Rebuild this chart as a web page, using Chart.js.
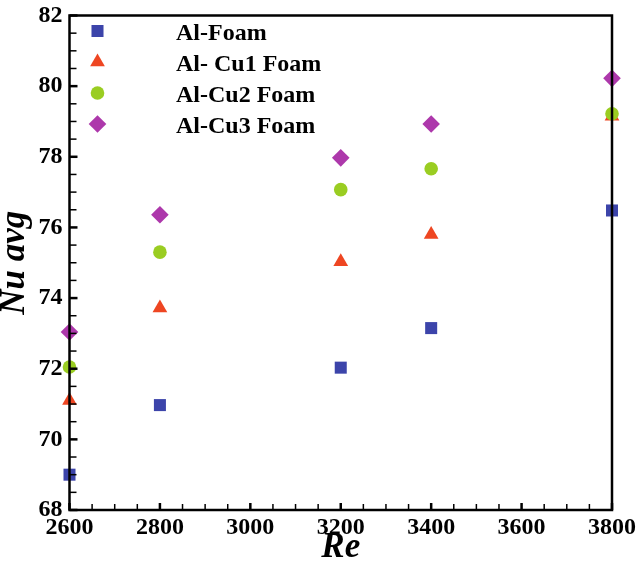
<!DOCTYPE html>
<html>
<head>
<meta charset="utf-8">
<script src="https://cdn.jsdelivr.net/npm/chart.js@4/dist/chart.umd.min.js"></script>
<style>
html,body{margin:0;padding:0;background:#fff;}
#wrap{width:640px;height:563px;position:relative;}
</style>
</head>
<body>
<div id="wrap"><canvas id="c"></canvas></div>
<script>
const reValues = [2600, 2800, 3200, 3400, 3800];
const alFoam = [69.0, 70.97, 72.03, 73.15, 76.48];
const alCu1Foam = [71.1, 73.72, 75.03, 75.8, 79.15];
const alCu2Foam = [72.05, 75.3, 77.07, 77.66, 79.22];
const alCu3Foam = [73.04, 76.36, 77.97, 78.93, 80.22];
const seriesNames = ['Al-Foam', 'Al- Cu1 Foam', 'Al-Cu2 Foam', 'Al-Cu3 Foam'];
const xTicks = [2600, 2800, 3000, 3200, 3400, 3600, 3800];
const yTicks = [68, 70, 72, 74, 76, 78, 80, 82];

const styles = [
  {color:'#3c44aa', pointStyle:'rect', radius:8.5, order:4},
  {color:'#ee4622', pointStyle:'triangle', radius:8.5, order:3},
  {color:'#9acd22', pointStyle:'circle', radius:6.8, order:2},
  {color:'#ad38ab', pointStyle:'rectRot', radius:8.8, order:1}
];
const allSeries = [alFoam, alCu1Foam, alCu2Foam, alCu3Foam];

const datasets = allSeries.map((vals, i) => ({
  label: seriesNames[i],
  data: reValues.map((x, j) => ({x: x, y: vals[j]})),
  backgroundColor: styles[i].color,
  borderColor: styles[i].color,
  borderWidth: 0,
  pointStyle: styles[i].pointStyle,
  pointRadius: styles[i].radius,
  pointHoverRadius: styles[i].radius,
  showLine: false,
  clip: false,
  order: styles[i].order
}));

const framePlugin = {
  id: 'frame',
  afterDraw(chart) {
    const ctx = chart.ctx;
    const a = chart.chartArea;
    const xs = chart.scales.x, ys = chart.scales.y;
    ctx.save();
    ctx.strokeStyle = '#000';
    for (let v = 68; v <= 82.0001; v += 0.5) {
      const py = ys.getPixelForValue(v);
      const major = Math.abs(v - Math.round(v / 2) * 2) < 1e-6;
      ctx.lineWidth = major ? 2.5 : 1.5;
      ctx.beginPath();
      ctx.moveTo(a.left, py);
      ctx.lineTo(a.left + (major ? 8 : 7), py);
      ctx.stroke();
    }
    for (let v = 2600; v <= 3800.0001; v += 50) {
      const px = xs.getPixelForValue(v);
      const major = v % 200 === 0;
      ctx.lineWidth = major ? 2.5 : 1.5;
      ctx.beginPath();
      ctx.moveTo(px, a.bottom);
      ctx.lineTo(px, a.bottom - (major ? 7 : 6));
      ctx.stroke();
    }
    ctx.lineWidth = 2.5;
    ctx.strokeRect(a.left, a.top, a.right - a.left, a.bottom - a.top);
    const rowY = [31, 62, 93, 124];
    ctx.font = 'bold 24px "Liberation Serif"';
    ctx.textBaseline = 'alphabetic';
    ctx.textAlign = 'left';
    for (let i = 0; i < seriesNames.length; i++) {
      ctx.fillStyle = styles[i].color;
      ctx.strokeStyle = styles[i].color;
      Chart.helpers.drawPoint(ctx, {pointStyle: styles[i].pointStyle, radius: styles[i].radius, rotation: 0, borderWidth: 0}, 97.5, rowY[i]);
      ctx.fillStyle = '#000';
      ctx.fillText(seriesNames[i], 176, rowY[i] + 8.5);
    }
    ctx.restore();
  }
};

const tickFont = {family: '"Liberation Serif", "Times New Roman", serif', size: 24, weight: 'bold', lineHeight: 1};
const titleFont = {family: '"Liberation Serif", "Times New Roman", serif', size: 35, weight: 'bold', style: 'italic', lineHeight: 0.85};

new Chart(document.getElementById('c'), {
  type: 'scatter',
  data: {datasets: datasets},
  options: {
    responsive: true,
    maintainAspectRatio: false,
    animation: false,
    events: [],
    layout: {padding: {top: 15.5, right: 28, left: 0, bottom: 0}},
    plugins: {legend: {display: false}, tooltip: {enabled: false}},
    scales: {
      x: {
        type: 'linear', min: 2600, max: 3800,
        afterBuildTicks(scale) { scale.ticks = xTicks.map(v => ({value: v})); },
        afterFit(scale) { scale.height = 53; scale.paddingLeft = 0; scale.paddingRight = 0; },
        grid: {display: false, drawTicks: false},
        border: {display: false},
        ticks: {font: tickFont, color: '#000', padding: 6, maxRotation: 0, autoSkip: false, callback: v => String(v)},
        title: {display: true, text: 'Re', font: titleFont, color: '#000', padding: 0}
      },
      y: {
        type: 'linear', min: 68, max: 82,
        afterBuildTicks(scale) { scale.ticks = yTicks.map(v => ({value: v})); },
        afterFit(scale) { scale.width = 69.5; scale.paddingTop = 0; scale.paddingBottom = 0; },
        grid: {display: false, drawTicks: false},
        border: {display: false},
        ticks: {font: tickFont, color: '#000', padding: 7, autoSkip: false, callback: v => String(v)},
        title: {display: true, text: 'Nu avg', font: titleFont, color: '#000', padding: 0}
      }
    }
  },
  plugins: [framePlugin]
});
</script>
</body>
</html>
